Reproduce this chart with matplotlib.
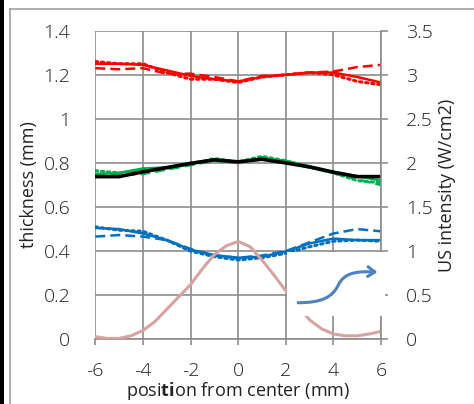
import numpy as np
import matplotlib
matplotlib.use("Agg")
import matplotlib.pyplot as plt
from matplotlib.path import Path
from matplotlib.patches import FancyArrowPatch, Rectangle
from matplotlib.lines import Line2D

plt.rcParams['font.family'] = ['Open Sans', 'DejaVu Sans']
plt.rcParams['font.weight'] = 'light'
plt.rcParams['axes.unicode_minus'] = False
plt.rcParams['mathtext.fontset'] = 'custom'
plt.rcParams['mathtext.rm'] = 'Open Sans:light'
plt.rcParams['mathtext.bf'] = 'Open Sans:bold'

# position from center (mm)
x = [-6, -5, -4, -3, -2, -1, 0, 1, 2, 3, 4, 5, 6]

# thickness (mm)
red_solid = [1.25, 1.25, 1.245, 1.22, 1.195, 1.18, 1.17, 1.19, 1.20, 1.21, 1.21, 1.19, 1.165]
red_dash = [1.23, 1.225, 1.23, 1.205, 1.205, 1.19, 1.17, 1.195, 1.20, 1.21, 1.215, 1.235, 1.245]
red_dot = [1.26, 1.25, 1.25, 1.21, 1.18, 1.18, 1.165, 1.19, 1.20, 1.21, 1.20, 1.17, 1.155]

green_solid = [0.75, 0.755, 0.775, 0.78, 0.80, 0.815, 0.80, 0.82, 0.81, 0.785, 0.76, 0.74, 0.72]
green_dash = [0.75, 0.745, 0.75, 0.77, 0.79, 0.81, 0.80, 0.825, 0.805, 0.78, 0.755, 0.725, 0.70]
green_dot = [0.765, 0.755, 0.765, 0.775, 0.795, 0.82, 0.805, 0.83, 0.81, 0.78, 0.755, 0.72, 0.71]

black_mean = [0.738, 0.738, 0.76, 0.779, 0.798, 0.814, 0.805, 0.817, 0.80, 0.782, 0.758, 0.738, 0.738]

blue_solid = [0.505, 0.50, 0.48, 0.45, 0.407, 0.382, 0.37, 0.375, 0.398, 0.435, 0.457, 0.45, 0.45]
blue_dash = [0.466, 0.473, 0.466, 0.45, 0.41, 0.38, 0.37, 0.38, 0.40, 0.44, 0.48, 0.50, 0.49]
blue_dot = [0.51, 0.495, 0.49, 0.45, 0.40, 0.375, 0.36, 0.37, 0.39, 0.42, 0.445, 0.45, 0.445]

# US intensity (W/cm2)
x_us = [-6, -5.5, -5, -4.5, -4, -3.5, -3, -2.5, -2, -1.5, -1, -0.5, 0,
        0.5, 1, 1.5, 2, 2.5, 3, 3.5, 4, 4.5, 5, 5.5, 6]
us = [0.03, 0.01, 0.01, 0.04, 0.10, 0.20, 0.34, 0.48, 0.62, 0.80, 0.96, 1.06, 1.11,
      1.05, 0.90, 0.73, 0.55, 0.38, 0.22, 0.12, 0.06, 0.04, 0.04, 0.06, 0.09]

fig = plt.figure(figsize=(4.74, 4.04), dpi=100)
fig.patch.set_facecolor('white')

# outer frame like the original screenshot
fig.add_artist(Rectangle((0, 0), 4 / 474, 1, transform=fig.transFigure,
                         facecolor='black', edgecolor='none'))
fig.add_artist(Line2D([9.5 / 474, 9.5 / 474], [0, 1 - 9 / 404], transform=fig.transFigure,
                      color='#a0a0a0', lw=1.2))
fig.add_artist(Line2D([9.5 / 474, 1], [1 - 9 / 404, 1 - 9 / 404], transform=fig.transFigure,
                      color='#a0a0a0', lw=1.2))

ax = fig.add_axes([95.3 / 474, 64.7 / 404, 285.7 / 474, 308.6 / 404])
ax2 = ax.twinx()

grid_c = '#8c8c8c'
txt_c = '#222222'
lw = 1.8
dash = (0, (4, 2))
dot = (0, (0.8, 1.2))

ax.plot(x, red_dash, color='red', lw=lw, ls=dash)
ax.plot(x, red_dot, color='red', lw=lw + 0.4, ls=dot, dash_capstyle='round')
ax.plot(x, red_solid, color='red', lw=lw)

ax.plot(x, green_dash, color='#00b050', lw=lw, ls=dash)
ax.plot(x, green_dot, color='#00b050', lw=lw + 0.4, ls=dot, dash_capstyle='round')
ax.plot(x, green_solid, color='#00b050', lw=lw)
ax.plot(x, black_mean, color='black', lw=2.6)

ax.plot(x, blue_dash, color='#0070c0', lw=lw, ls=dash)
ax.plot(x, blue_dot, color='#0070c0', lw=lw + 0.4, ls=dot, dash_capstyle='round')
ax.plot(x, blue_solid, color='#0070c0', lw=lw)

ax2.plot(x_us, us, color='#d6a3a1', lw=2.2)

ax.set_xlim(-6, 6)
ax.set_ylim(0, 1.4)
ax2.set_ylim(0, 3.5)
ax.set_xticks(range(-6, 7, 2))
ax.set_yticks(np.arange(0, 1.41, 0.2))
ax.set_yticklabels(['0', '0.2', '0.4', '0.6', '0.8', '1', '1.2', '1.4'])
ax2.set_yticks(np.arange(0, 3.6, 0.5))
ax2.set_yticklabels(['0', '0.5', '1', '1.5', '2', '2.5', '3', '3.5'])

ax.grid(True, color=grid_c, lw=1.2)
ax.set_axisbelow(True)
for a in (ax, ax2):
    for s in a.spines.values():
        s.set_visible(False)
ax.spines['bottom'].set_visible(True)
ax.spines['bottom'].set_color(grid_c)
ax.spines['bottom'].set_linewidth(1.2)
ax2.spines['right'].set_visible(True)
ax2.spines['right'].set_color(grid_c)
ax2.spines['right'].set_linewidth(1.2)

fs = 13
tfs = 14
ax.tick_params(axis='x', direction='out', length=4, width=1.2, color=grid_c,
               labelsize=tfs, pad=12, labelcolor=txt_c)
ax.tick_params(axis='y', length=0, labelsize=tfs, pad=18, labelcolor=txt_c)
ax2.tick_params(axis='y', direction='out', length=5, width=1.2, color=grid_c,
                labelsize=tfs, pad=13, labelcolor=txt_c)

ax.set_ylabel('thickness (mm)', fontsize=fs, labelpad=4, color=txt_c)
ax2.set_ylabel('US intensity (W/cm2)', fontsize=fs, labelpad=4, color=txt_c)
ax.set_xlabel(r'posi$\mathbf{ti}$on from center (mm)', fontsize=fs, labelpad=0.5,
              color=txt_c)

# white glow box behind the arrow
fig.add_artist(Rectangle((287 / 474, 88 / 404), 98 / 474, 64 / 404,
                         transform=fig.transFigure, facecolor='white',
                         edgecolor='none', zorder=5))

verts = [(2.52, 0.166), (3.5, 0.166), (3.95, 0.19), (4.2, 0.245),
         (4.45, 0.30), (4.9, 0.31), (5.85, 0.305)]
codes = [Path.MOVETO, Path.CURVE4, Path.CURVE4, Path.CURVE4,
         Path.CURVE4, Path.CURVE4, Path.CURVE4]
arrow = FancyArrowPatch(path=Path(verts, codes), arrowstyle='->,head_length=5,head_width=3.5',
                        color='#4f81bd', lw=2.2, transform=ax.transData,
                        zorder=6, clip_on=False)
fig.add_artist(arrow)

fig.savefig('out.png', dpi=100)
